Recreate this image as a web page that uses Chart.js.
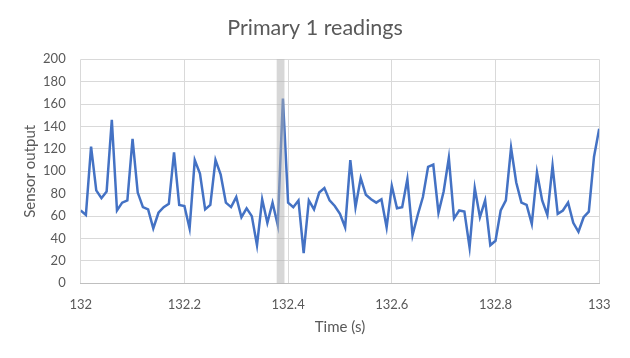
<!DOCTYPE html>
<html>
<head>
<meta charset="utf-8">
<script src="https://cdn.jsdelivr.net/npm/chart.js@4/dist/chart.umd.min.js"></script>
<style>
html,body{margin:0;padding:0;background:#fff;}
canvas{display:block;}
</style>
</head>
<body>
<canvas id="c" width="630" height="358"></canvas>
<script>
const chartTitle = "Primary 1 readings";
const xAxisTitle = "Time (s)";
const yAxisTitle = "Sensor output";

const times = [
  132.00,132.01,132.02,132.03,132.04,132.05,132.06,132.07,132.08,132.09,
  132.10,132.11,132.12,132.13,132.14,132.15,132.16,132.17,132.18,132.19,
  132.20,132.21,132.22,132.23,132.24,132.25,132.26,132.27,132.28,132.29,
  132.30,132.31,132.32,132.33,132.34,132.35,132.36,132.37,132.38,132.39,
  132.40,132.41,132.42,132.43,132.44,132.45,132.46,132.47,132.48,132.49,
  132.50,132.51,132.52,132.53,132.54,132.55,132.56,132.57,132.58,132.59,
  132.60,132.61,132.62,132.63,132.64,132.65,132.66,132.67,132.68,132.69,
  132.70,132.71,132.72,132.73,132.74,132.75,132.76,132.77,132.78,132.79,
  132.80,132.81,132.82,132.83,132.84,132.85,132.86,132.87,132.88,132.89,
  132.90,132.91,132.92,132.93,132.94,132.95,132.96,132.97,132.98,132.99,
  133.00,133.01
];

const readings = [
  65,61,122,83,76,82,146,65,72,74,
  129,81,68,66,49,63,68,71,117,70,
  69,49,110,98,66,70,110,97,72,68,
  77,59,67,60,34,75,54,72,52,165,
  72,68,74,27,74,66,81,85,74,69,
  62,50,110,68,94,79,75,72,75,50,
  87,67,68,93,43,61,77,104,106,63,
  82,112,58,65,64,32,85,59,74,34,
  38,65,74,121,90,72,70,53,99,74,
  61,105,62,65,72,54,46,59,64,113,
  138,60
];

const xTicksRange = [132, 133, 0.2];
const yTicksRange = [0, 200, 20];
const highlightBand = [132.378, 132.393];

const points = times.map((t, i) => ({x: t, y: readings[i]}));

const bandPlugin = {
  id: 'band',
  afterDatasetsDraw(chart) {
    const {ctx, chartArea, scales} = chart;
    const x0 = scales.x.getPixelForValue(highlightBand[0]);
    const x1 = scales.x.getPixelForValue(highlightBand[1]);
    ctx.save();
    ctx.fillStyle = 'rgba(175,175,175,0.5)';
    ctx.fillRect(x0, chartArea.top, x1 - x0, chartArea.bottom - chartArea.top);
    ctx.restore();
  }
};

const FONT = "Lato, 'Noto Sans', sans-serif";
const GREY = '#595959';

new Chart(document.getElementById('c'), {
  type: 'line',
  data: {
    datasets: [{
      data: points,
      borderColor: '#4472C4',
      borderWidth: 2.5,
      pointRadius: 0,
      tension: 0,
      fill: false
    }]
  },
  options: {
    responsive: false,
    animation: false,
    devicePixelRatio: 1,
    layout: {padding: {left: 0, right: 0, top: 0, bottom: 0}},
    plugins: {
      legend: {display: false},
      tooltip: {enabled: false},
      title: {
        display: true,
        text: chartTitle,
        color: GREY,
        font: {family: FONT, size: 21.5, weight: 'normal'},
        padding: {top: 15, bottom: 18.5}
      }
    },
    scales: {
      x: {
        type: 'linear',
        min: xTicksRange[0],
        max: xTicksRange[1],
        ticks: {
          stepSize: xTicksRange[2],
          color: GREY,
          font: {family: FONT, size: 13},
          padding: 14,
          maxRotation: 0,
          callback: v => String(Number(v.toFixed(1)))
        },
        grid: {color: '#d9d9d9', drawTicks: false, lineWidth: 1},
        border: {display: true, color: '#bfbfbf'},
        title: {
          display: true,
          text: xAxisTitle,
          color: GREY,
          font: {family: FONT, size: 15},
          padding: {top: 0, bottom: 22}
        },
        afterFit(scale) { scale.height = 358 - 283.3; }
      },
      y: {
        min: yTicksRange[0],
        max: yTicksRange[1],
        ticks: {
          stepSize: yTicksRange[2],
          color: GREY,
          font: {family: FONT, size: 13},
          padding: 15
        },
        grid: {color: '#d9d9d9', drawTicks: false, lineWidth: 1},
        border: {display: false},
        title: {
          display: true,
          text: yAxisTitle,
          color: GREY,
          font: {family: FONT, size: 15},
          padding: {top: 21.5, bottom: 0}
        },
        afterFit(scale) { scale.width = 80.7; }
      },
      spacer: {
        type: 'linear',
        position: 'right',
        display: true,
        ticks: {display: false},
        grid: {display: false, drawTicks: false},
        border: {display: false},
        afterFit(scale) { scale.width = 630 - 599.2; }
      }
    }
  },
  plugins: [bandPlugin]
});
</script>
</body>
</html>
